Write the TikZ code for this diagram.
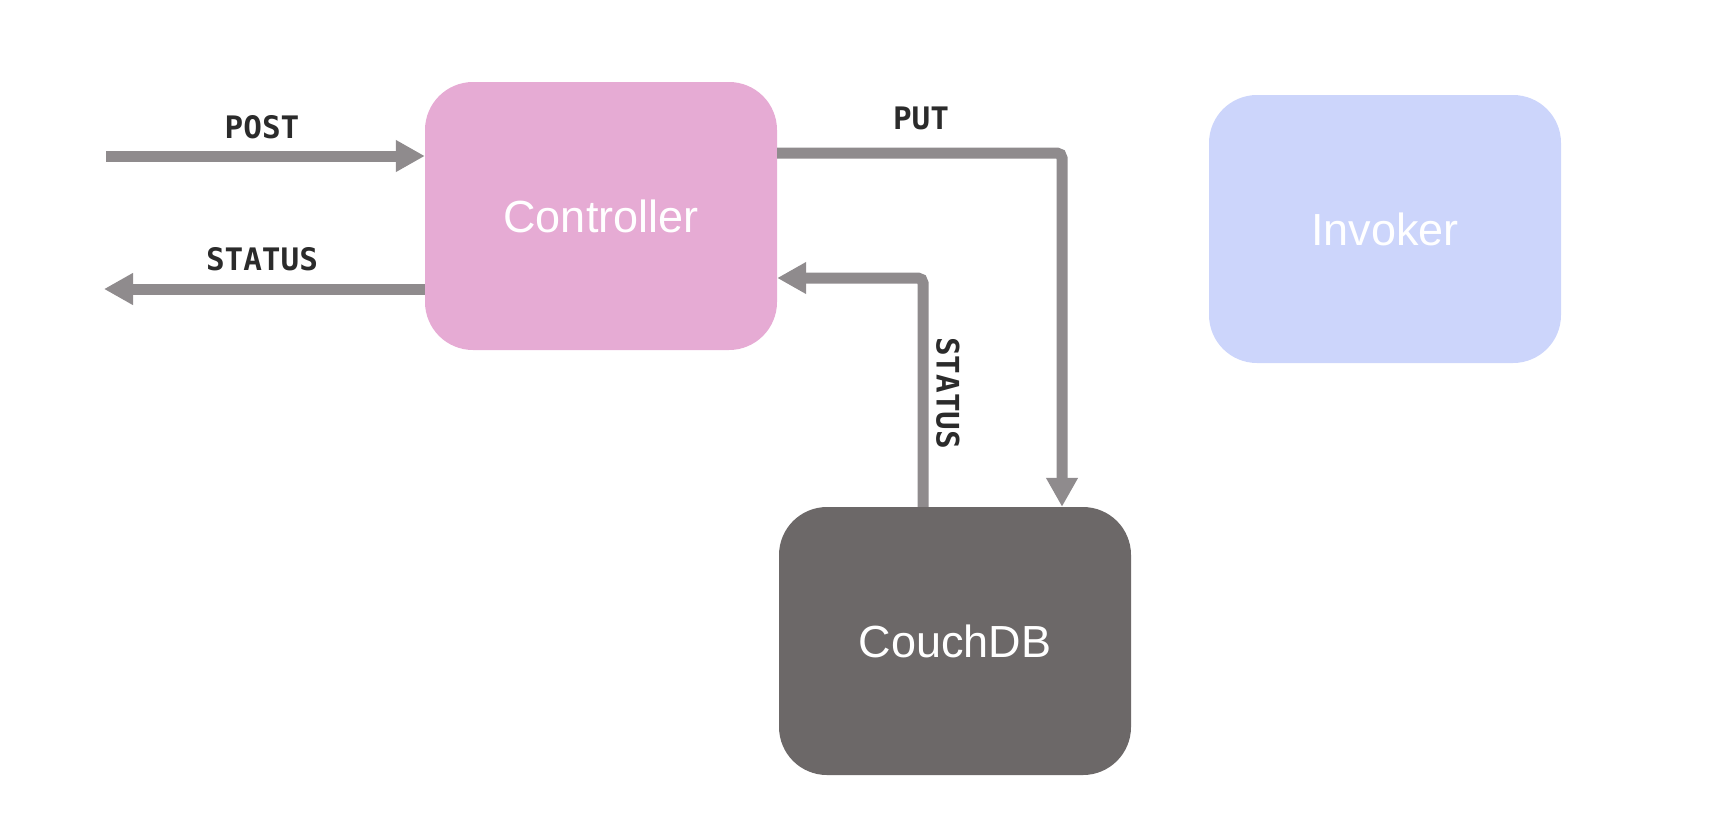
\documentclass[tikz,border=0pt]{standalone}
\usepackage{fontspec}
\setmainfont{Liberation Sans}
\newfontfamily\labelfont{DejaVu Sans Mono}
\usetikzlibrary{arrows.meta}
\definecolor{ctrlpink}{HTML}{E6ABD4}
\definecolor{invblue}{HTML}{CCD5FB}
\definecolor{couchgray}{HTML}{6C6868}
\definecolor{arrowgray}{HTML}{8F8B8D}
\definecolor{lblcol}{HTML}{2B2B2B}
\begin{document}
\begin{tikzpicture}[x=1pt,y=-1pt,
  box/.style={rectangle, rounded corners=48pt, minimum width=352pt, minimum height=268pt,
    inner sep=0pt, draw=none, font=\fontsize{45}{54}\selectfont, text=white},
  flow/.style={draw=arrowgray, line width=11pt, -{Triangle[length=29pt,width=30pt]}},
  lbl/.style={font=\labelfont\bfseries\fontsize{31}{36}\selectfont, text=lblcol, inner sep=0pt}]
\useasboundingbox (0,0) rectangle (1712,812);
\node[box, fill=ctrlpink] (ctrl) at (601,216) {Controller};
\node[box, fill=invblue] (inv) at (1385,229) {Invoker};
\node[box, fill=couchgray] (couch) at (955,641) {CouchDB};

\coordinate (postin) at (106,156);
\draw[flow] (postin) -- (ctrl.west |- postin);
\coordinate (statout) at (104,289);
\draw[flow] (ctrl.west |- statout) -- (statout);

\coordinate (putbend) at (1062,153);
\draw[flow, rounded corners=5pt] (ctrl.east |- putbend) -- (putbend) -- (putbend |- couch.north);
\coordinate (statbend) at (923,278);
\draw[flow, rounded corners=5pt] (statbend |- couch.north) -- (statbend) -- (ctrl.east |- statbend);

\node[lbl] (postlbl) at (262,127) {POST};
\node[lbl] (statlbl) at (262,259) {STATUS};
\node[lbl] (putlbl) at (921,118) {PUT};
\node[lbl, rotate=-90] (statlbl2) at (948,393) {STATUS};
\end{tikzpicture}
\end{document}
